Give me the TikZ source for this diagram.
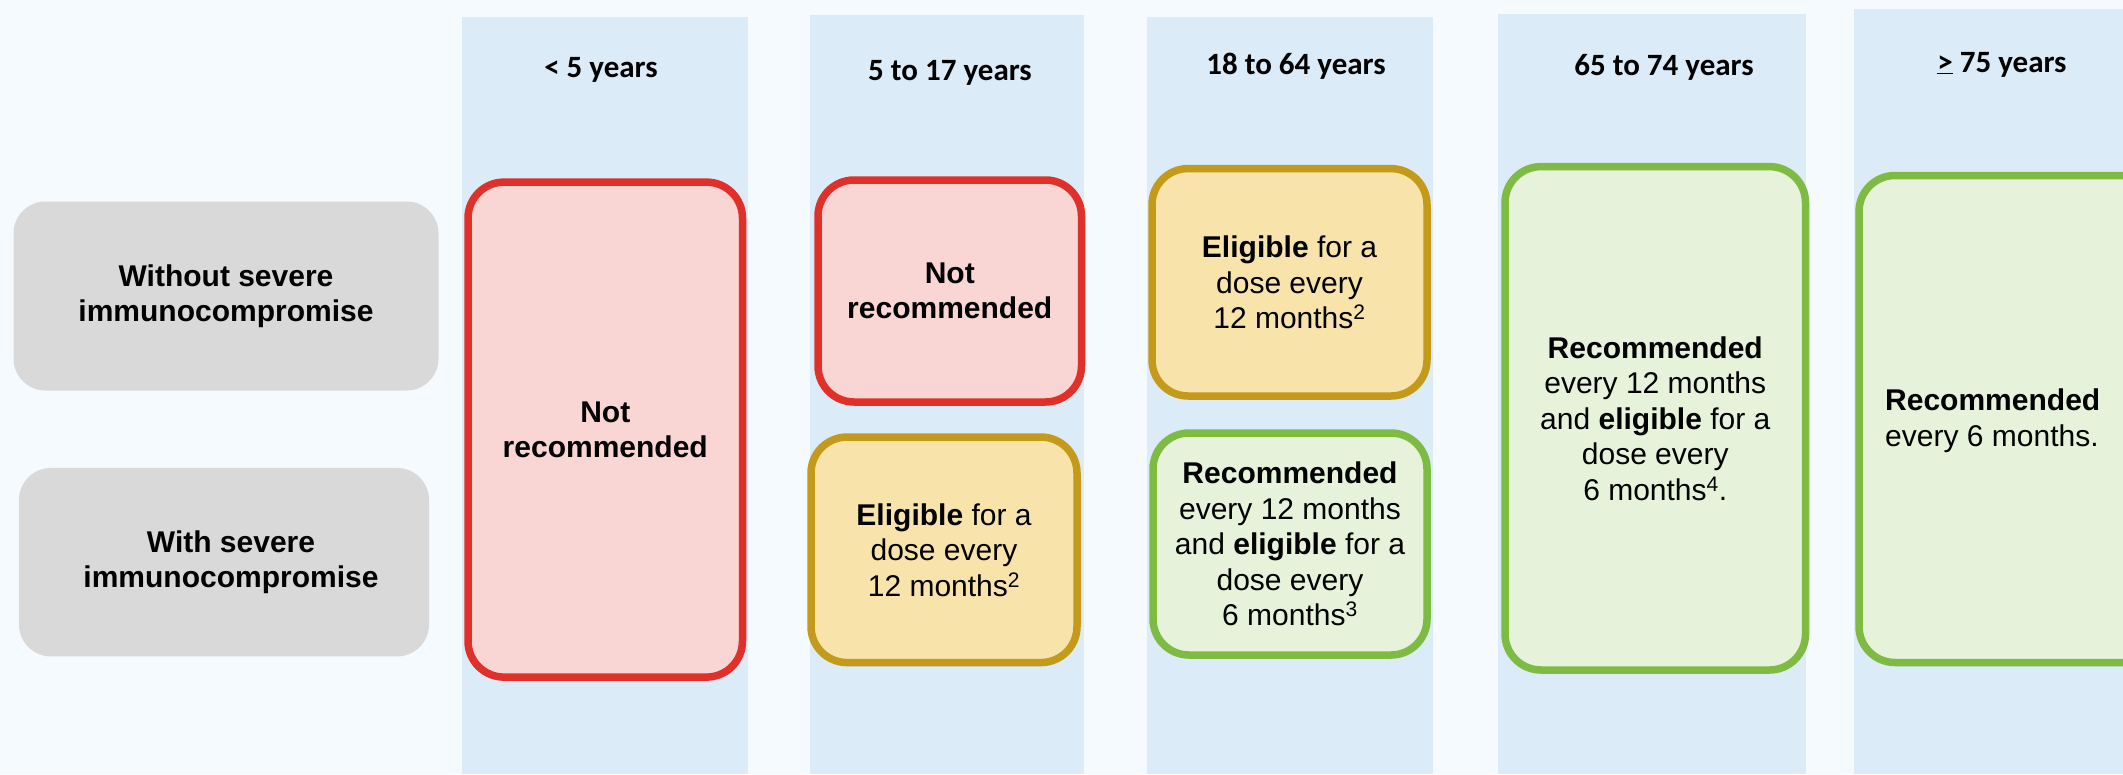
\documentclass[tikz,border=0pt]{standalone}
\usepackage{fontspec}
\setmainfont{Liberation Sans}
\newfontfamily\hdrfont{Carlito}
\definecolor{bgcol}{HTML}{F4FAFE}
\definecolor{bandcol}{HTML}{DCEBF8}
\definecolor{graycol}{HTML}{D9D9D9}
\definecolor{redline}{HTML}{E0302A}
\definecolor{redfill}{HTML}{F9D5D3}
\definecolor{goldline}{HTML}{C49A1A}
\definecolor{goldfill}{HTML}{F8E4AB}
\definecolor{greenline}{HTML}{7EBB42}
\definecolor{greenfill}{HTML}{E6F2D9}
\begin{document}
\begin{tikzpicture}[x=1pt,y=-1pt,
  band/.style={fill=bandcol,draw=none},
  hdr/.style={font=\hdrfont\bfseries\fontsize{31}{36}\selectfont,anchor=base,inner sep=0pt},
  rowlab/.style={fill=graycol,rounded corners=32pt,inner sep=0pt,align=center,
    font=\bfseries\fontsize{30}{34.5}\selectfont},
  status/.style={line width=7.5pt,rounded corners=36pt,inner sep=0pt,align=center,
    font=\fontsize{30}{35.5}\selectfont},
  notrec/.style={status,draw=redline,fill=redfill},
  elig/.style={status,draw=goldline,fill=goldfill},
  recbox/.style={status,draw=greenline,fill=greenfill},
  txt/.style={align=center,inner sep=0pt,font=\fontsize{30}{35.5}\selectfont}
]
\useasboundingbox (0,0) rectangle (2123,774);
\begin{scope}
\clip (0,0) rectangle (2123,774);
\fill[bgcol] (0,0) rectangle (2123,774);
% column bands
\path[band] (462,16.5) rectangle (748,774);
\path[band] (810,14.8) rectangle (1084,774);
\path[band] (1147,16.5) rectangle (1433,774);
\path[band] (1498,13.8) rectangle (1806,774);
\path[band] (1854,9) rectangle (2123,774);
% headers
\node[hdr] (h1) at (601,77.5) {< 5 years};
\node[hdr] (h2) at (950,80.5) {5 to 17 years};
\node[hdr] (h3) at (1296,74) {18 to 64 years};
\node[hdr] (h4) at (1664,75.5) {65 to 74 years};
\node[hdr] (h5) at (2002,72) {\underline{>} 75 years};
% row labels
\node[rowlab,minimum width=425pt,minimum height=189pt] (r1) at (226,296)
  {Without severe\\immunocompromise};
\node[rowlab,minimum width=410pt,minimum height=188.5pt] (r2) at (224,562.2)
  {\hspace*{14pt}With severe\\\hspace*{14pt}immunocompromise};
% status boxes
\node[notrec,minimum width=274.5pt,minimum height=495pt] (c1) at (605.25,429.6)
  {\textbf{Not}\\\textbf{recommended}};
\node[notrec,minimum width=263.5pt,minimum height=222pt] (c2a) at (949.75,291)
  {\textbf{Not}\\\textbf{recommended}};
\node[elig,minimum width=266pt,minimum height=225.5pt] (c2b) at (944,549.8)
  {\textbf{Eligible} for a\\dose every\\12 months\textsuperscript{2}};
\node[elig,minimum width=275pt,minimum height=227.4pt] (c3a) at (1289.5,282.3)
  {\textbf{Eligible} for a\\dose every\\12 months\textsuperscript{2}};
\node[recbox,minimum width=274pt,minimum height=222pt] (c3b) at (1290,544)
  {\textbf{Recommended}\\every 12 months\\and \textbf{eligible} for a\\dose every\\6 months\textsuperscript{3}};
\node[recbox,minimum width=300.5pt,minimum height=503.4pt] (c4) at (1655.25,418.3)
  {\textbf{Recommended}\\every 12 months\\and \textbf{eligible} for a\\dose every\\6 months\textsuperscript{4}.};
\node[recbox,minimum width=311pt,minimum height=487pt] (c5) at (2014.5,419) {};
\node[txt,align=left,anchor=west] (t5) at (1885,420.8)
  {\textbf{Recommended}\\every 6 months.};
\end{scope}
\end{tikzpicture}
\end{document}
